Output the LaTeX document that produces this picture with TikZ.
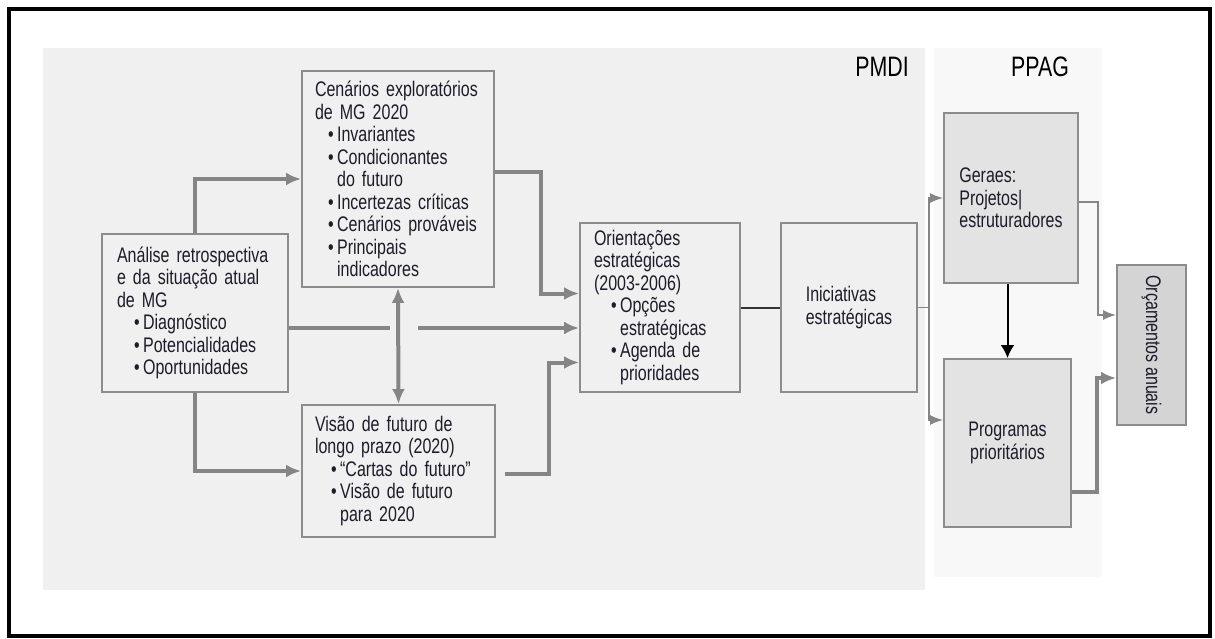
\documentclass[tikz,border=0pt]{standalone}
\usepackage{fontspec}
\setmainfont{Liberation Sans}[FakeStretch=0.76]
\usetikzlibrary{calc}
\usetikzlibrary{arrows.meta}

\definecolor{linegray}{HTML}{858585}
\definecolor{boxgray}{HTML}{8C8C8C}
\definecolor{darkline}{HTML}{333333}
\definecolor{bgleft}{HTML}{F0F0F0}
\definecolor{bgright}{HTML}{F8F8F8}
\definecolor{boxfill}{HTML}{F0F0F0}
\definecolor{ppfill}{HTML}{E3E3E3}
\definecolor{orcfill}{HTML}{D4D4D4}
\definecolor{textdark}{HTML}{1C1C2A}

\newcommand{\bl}[1]{\hspace*{#1}\textbullet\hspace{0.07cm}}
\newcommand{\bc}[1]{\hspace*{#1}\phantom{\textbullet}\hspace{0.07cm}}

\begin{document}
\begin{tikzpicture}[x=0.02cm, y=-0.02cm, >={Latex[length=0.3cm,width=0.26cm]},
  box/.style={draw=boxgray, line width=0.04cm, fill=boxfill, align=left, text=textdark,
    font=\fontsize{12}{12.8}\selectfont, inner ysep=0pt},
  gconn/.style={draw=linegray, line width=0.08cm, ->},
  gline/.style={draw=linegray, line width=0.08cm},
  tconn/.style={draw=linegray, line width=0.03cm, -{Latex[length=0.26cm,width=0.2cm]}},
  bconn/.style={draw=black, line width=0.04cm, -{Latex[length=0.26cm,width=0.28cm]}},
  region/.style={font=\fontsize{16}{18}\selectfont, text=black}]

\useasboundingbox (0,0) rectangle (1215,639);
\fill[bgleft] (43,48) rectangle (925,590);
\fill[bgright] (934,48) rectangle (1102,577);
\draw[line width=0.07cm] (9,9) rectangle (1210,636);

\node[region] at (882,67) (pmdi) {PMDI};
\node[region] at (1040,67) (ppag) {PPAG};

\node[box, minimum width=3.72cm, minimum height=3.16cm, inner xsep=0.3cm, text width=3.12cm]
  at (195,313) (ana) {Análise retrospectiva\\e da situação atual\\de MG\\
  \bl{0.34cm}Diagnóstico\\\bl{0.34cm}Potencialidades\\\bl{0.34cm}Oportunidades};
\node[box, minimum width=3.84cm, minimum height=4.32cm, inner xsep=0.26cm, text width=3.32cm]
  at (398,179) (cen) {Cenários exploratórios\\de MG 2020\\
  \bl{0.26cm}Invariantes\\\bl{0.26cm}Condicionantes\\\bc{0.26cm}do futuro\\
  \bl{0.26cm}Incertezas críticas\\\bl{0.26cm}Cenários prováveis\\
  \bl{0.26cm}Principais\\\bc{0.26cm}indicadores};
\node[box, minimum width=3.86cm, minimum height=2.64cm, inner xsep=0.26cm, text width=3.34cm]
  at (398.5,471) (vis) {Visão de futuro de\\longo prazo (2020)\\
  \bl{0.32cm}“Cartas do futuro”\\\bl{0.32cm}Visão de futuro\\\bc{0.32cm}para 2020};
\node[box, minimum width=3.2cm, minimum height=3.38cm, inner xsep=0.28cm, text width=2.64cm]
  at (660,307.5) (ori) {Orientações\\estratégicas\\(2003-2006)\\
  \bl{0.34cm}Opções\\\bc{0.34cm}estratégicas\\\bl{0.34cm}Agenda de\\\bc{0.34cm}prioridades};
\node[box, minimum width=2.72cm, minimum height=3.38cm] at (849,307.5) (ini)
  {Iniciativas\\estratégicas};
\node[box, fill=ppfill, minimum width=2.68cm, minimum height=3.4cm] at (1011,198) (ger)
  {Geraes:\\Projetos|\\estruturadores};
\node[box, fill=ppfill, align=center, minimum width=2.54cm, minimum height=3.36cm]
  at (1007.5,443) (pro) {Programas\\prioritários};
\node[box, fill=orcfill, rotate=-90, minimum width=3.2cm, minimum height=1.38cm]
  at (1151.5,345) (orc) {Orçamentos anuais};

\draw[gconn] (ana.north) |- (cen.west);
\draw[gconn] (ana.south) |- (vis.west);
\draw[gline] ($(ana.east)+(0,15)$) -- ($(ana.east -| cen.south)+(-8,15)$);
\draw[gconn] ($(ana.east -| cen.south)+(20,15)$) -- ($(ana.east -| ori.west)+(0,15)$);
\draw[gconn, <->] (cen.south) -- (vis.north);
\draw[gconn] ($(cen.east)+(0,-7)$) -- ++(46,0) |- ($(ori.west)+(0,-14)$);
\draw[gconn] ($(vis.east)+(9,3)$) -- ++(44,0) |- ($(ori.west)+(0,55)$);
\draw[darkline, line width=0.04cm] (ori.east) -- (ini.west);
\draw[tconn] (ini.east) -- ++(11,0) |- (ger.west);
\draw[tconn] (ini.east) -- ++(11,0) |- ($(pro.west)+(0,-23)$);
\draw[bconn] (ger.south -| pro.north) -- (pro.north);
\draw[tconn] ($(ger.east)+(0,4)$) -- ++(19,0) |- ([yshift=0.6cm]orc.south);
\draw[gconn] ($(pro.east)+(0,49)$) -- ++(25,0) |- ([yshift=-0.66cm]orc.south);

\end{tikzpicture}
\end{document}
